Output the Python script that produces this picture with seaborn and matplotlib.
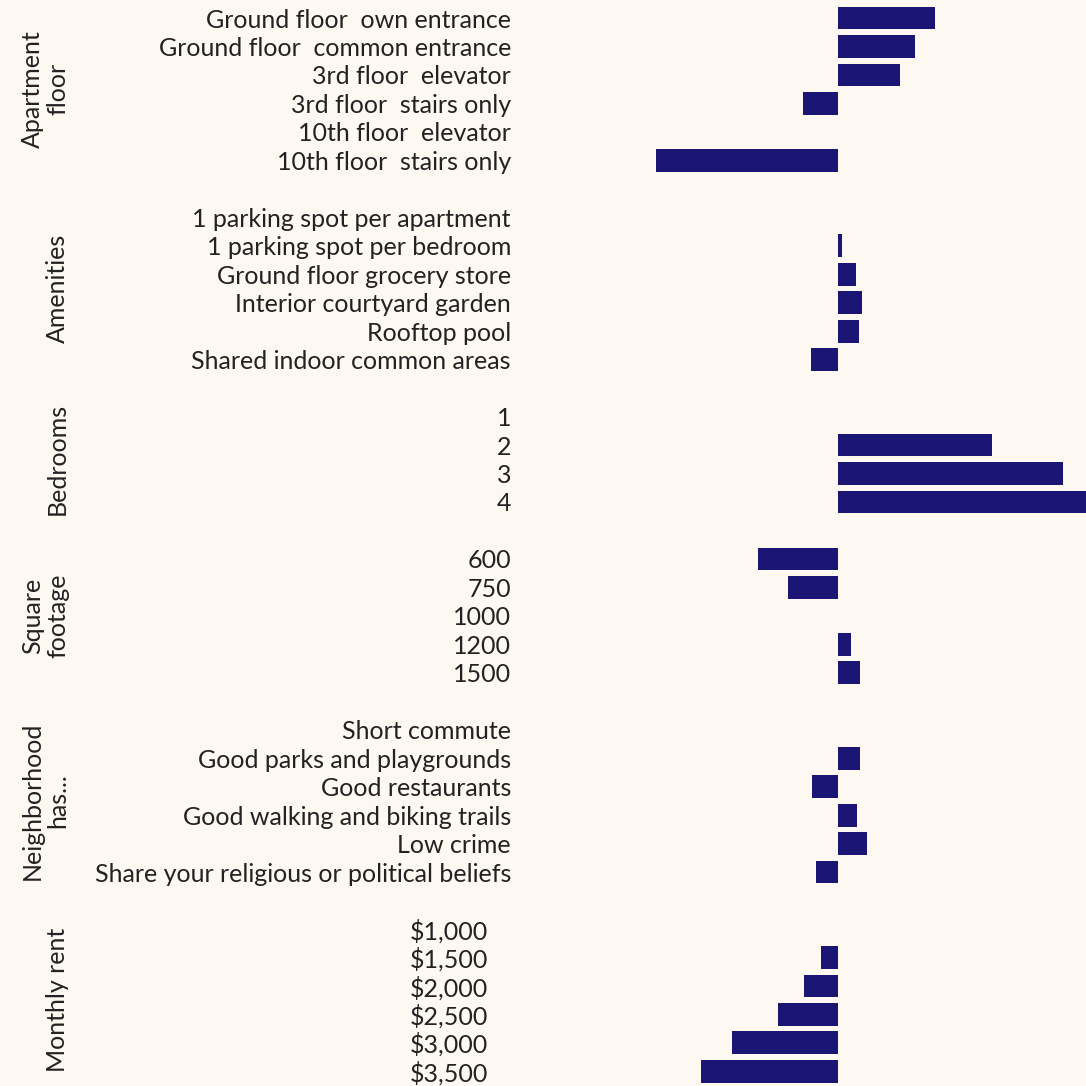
import matplotlib
matplotlib.use("Agg")
import matplotlib.pyplot as plt
import matplotlib.transforms as mtransforms
import pandas as pd
import seaborn as sns

# ─── Data ─────────────────────────────────────────────────────────────────────
floor_levels = ["Ground floor  own entrance", "Ground floor  common entrance",
                "3rd floor  elevator", "3rd floor  stairs only",
                "10th floor  elevator", "10th floor  stairs only"]
floor_vals = [0.97, 0.77, 0.62, -0.35, 0.0, -1.82]

amen_levels = ["1 parking spot per apartment", "1 parking spot per bedroom",
               "Ground floor grocery store", "Interior courtyard garden",
               "Rooftop pool", "Shared indoor common areas"]
amen_vals = [0.0, 0.04, 0.18, 0.24, 0.21, -0.27]

bed_levels = ["1", "2", "3", "4"]
bed_vals = [0.0, 1.54, 2.25, 2.70]

sqft_levels = ["600", "750", "1000", "1200", "1500"]
sqft_vals = [-0.80, -0.50, 0.0, 0.13, 0.22]

hood_levels = ["Short commute", "Good parks and playgrounds", "Good restaurants",
               "Good walking and biking trails", "Low crime",
               "Share your religious or political beliefs"]
hood_vals = [0.0, 0.22, -0.26, 0.19, 0.29, -0.22]

rent_levels = ["$1,000", "$1,500", "$2,000", "$2,500", "$3,000", "$3,500"]
rent_vals = [0.0, -0.17, -0.34, -0.60, -1.06, -1.37]

groups = [
    ("Apartment\nfloor", floor_levels, floor_vals),
    ("Amenities", amen_levels, amen_vals),
    ("Bedrooms", bed_levels, bed_vals),
    ("Square\nfootage", sqft_levels, sqft_vals),
    ("Neighborhood\nhas...", hood_levels, hood_vals),
    ("Monthly rent", rent_levels, rent_vals),
]

# ─── Style ────────────────────────────────────────────────────────────────────
BG = "#FEF8F3"
BAR = "#1B1675"
TEXT = "#222222"

sns.set_theme(style="white")
plt.rcParams["font.family"] = ["Lato", "DejaVu Sans"]
plt.rcParams["text.color"] = TEXT

W = 1086
fig, axes = plt.subplots(
    len(groups), 1, figsize=(10.86, 10.86), dpi=100, sharex=True,
    gridspec_kw={"height_ratios": [len(g[1]) for g in groups],
                 "hspace": 1 / 5.5})
fig.patch.set_facecolor(BG)
fig.subplots_adjust(left=520 / W, right=1.0, top=1 - 3.8 / W, bottom=0.0004)

for ax, (name, levels, vals) in zip(axes, groups):
    df = pd.DataFrame({"level": levels, "value": vals})
    sns.barplot(data=df, x="value", y="level", ax=ax, color=BAR,
                saturation=1, width=0.8, linewidth=0, orient="h")
    ax.set_facecolor(BG)
    ax.set_xlim(-3.18, 2.48)
    ax.set_xlabel("")
    ax.set_ylabel(name, fontsize=18, color=TEXT, linespacing=1.1)
    trans = mtransforms.blended_transform_factory(fig.transFigure, ax.transAxes)
    ax.yaxis.set_label_coords(69 / W, 0.5, transform=trans)
    pad = 23 if name == "Monthly rent" else 6.5
    ax.tick_params(axis="y", length=0, pad=pad, labelsize=18, colors=TEXT)
    ax.tick_params(axis="x", length=0, labelbottom=False)
    sns.despine(ax=ax, left=True, bottom=True)

plt.savefig("out.png", dpi=100, facecolor=BG)
